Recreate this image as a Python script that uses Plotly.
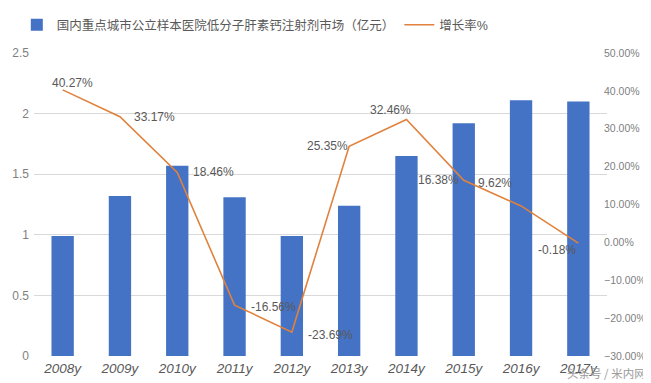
import plotly.graph_objects as go

categories = ["2008y", "2009y", "2010y", "2011y", "2012y", "2013y", "2014y", "2015y", "2016y", "2017y"]
market_values = [0.99, 1.32, 1.57, 1.31, 0.99, 1.24, 1.65, 1.92, 2.11, 2.10]
growth_rates = [40.27, 33.17, 18.46, -16.56, -23.69, 25.35, 32.46, 16.38, 9.62, -0.18]

bar_name = "国内重点城市公立样本医院低分子肝素钙注射剂市场（亿元）"
line_name = "增长率%"

FONT = "Liberation Sans, Noto Sans CJK SC, sans-serif"
GRAY = "#595959"
BLUE = "#4472C4"
ORANGE = "#E0823D"

fig = go.Figure()

fig.add_trace(go.Bar(
    x=categories, y=market_values, name=bar_name,
    marker=dict(color=BLUE, line=dict(width=0)),
    yaxis="y",
))
fig.add_trace(go.Scatter(
    x=categories, y=growth_rates, name=line_name,
    mode="lines", line=dict(color=ORANGE, width=1.6),
    yaxis="y2",
))

# data-label offsets (pixels) relative to each line point
label_shifts = [(10, 7), (35, 0), (36, 0), (39, -2), (39, -3),
                (-22, 0), (-16, 9), (-25, 0), (-26, 23), (-21, -7)]
for cat, val, (dx, dy) in zip(categories, growth_rates, label_shifts):
    fig.add_annotation(
        x=cat, y=val, xref="x", yref="y2", text=f"{val:.2f}%",
        showarrow=False, xshift=dx, yshift=dy,
        font=dict(family=FONT, size=12, color=GRAY),
    )

# source mark at bottom right
fig.add_annotation(x=1.07, y=-0.055, xref="paper", yref="paper", text="头条号 / 米内网",
                   showarrow=False, xanchor="right", yanchor="middle", borderpad=0,
                   font=dict(family="Noto Sans CJK SC", size=11.5, color="#9a9a9a"))

fig.update_layout(
    width=651, height=383,
    margin=dict(l=26, r=52, t=45, b=35, autoexpand=False),
    paper_bgcolor="white", plot_bgcolor="white",
    bargap=0.61,
    font=dict(family=FONT, color=GRAY),
    showlegend=True,
    legend=dict(orientation="h", x=-0.03, xanchor="left", y=1.092, yanchor="middle",
                font=dict(family=FONT, size=12.5, color=GRAY), bgcolor="rgba(0,0,0,0)",
                itemwidth=30),
    xaxis=dict(
        type="category", showgrid=False, showline=False, zeroline=False, ticks="",
        tickfont=dict(family=FONT, size=13.5, color=GRAY, style="italic"),
        ticklabelstandoff=2,
    ),
    yaxis=dict(
        range=[0, 2.5], dtick=0.5, showgrid=True, gridcolor="#D9D9D9", gridwidth=1,
        zeroline=False, showline=False, ticks="",
        tickfont=dict(family=FONT, size=12, color="#7f7f7f"),
        ticklabelstandoff=4,
    ),
    yaxis2=dict(
        range=[-30, 50], dtick=10, overlaying="y", side="right", showgrid=False,
        zeroline=False, showline=False, ticks="", tickformat=".2f", ticksuffix="%",
        tickfont=dict(family=FONT, size=10.5, color="#7f7f7f"),
        ticklabelstandoff=-4,
    ),
)

fig.write_html("out.html")
